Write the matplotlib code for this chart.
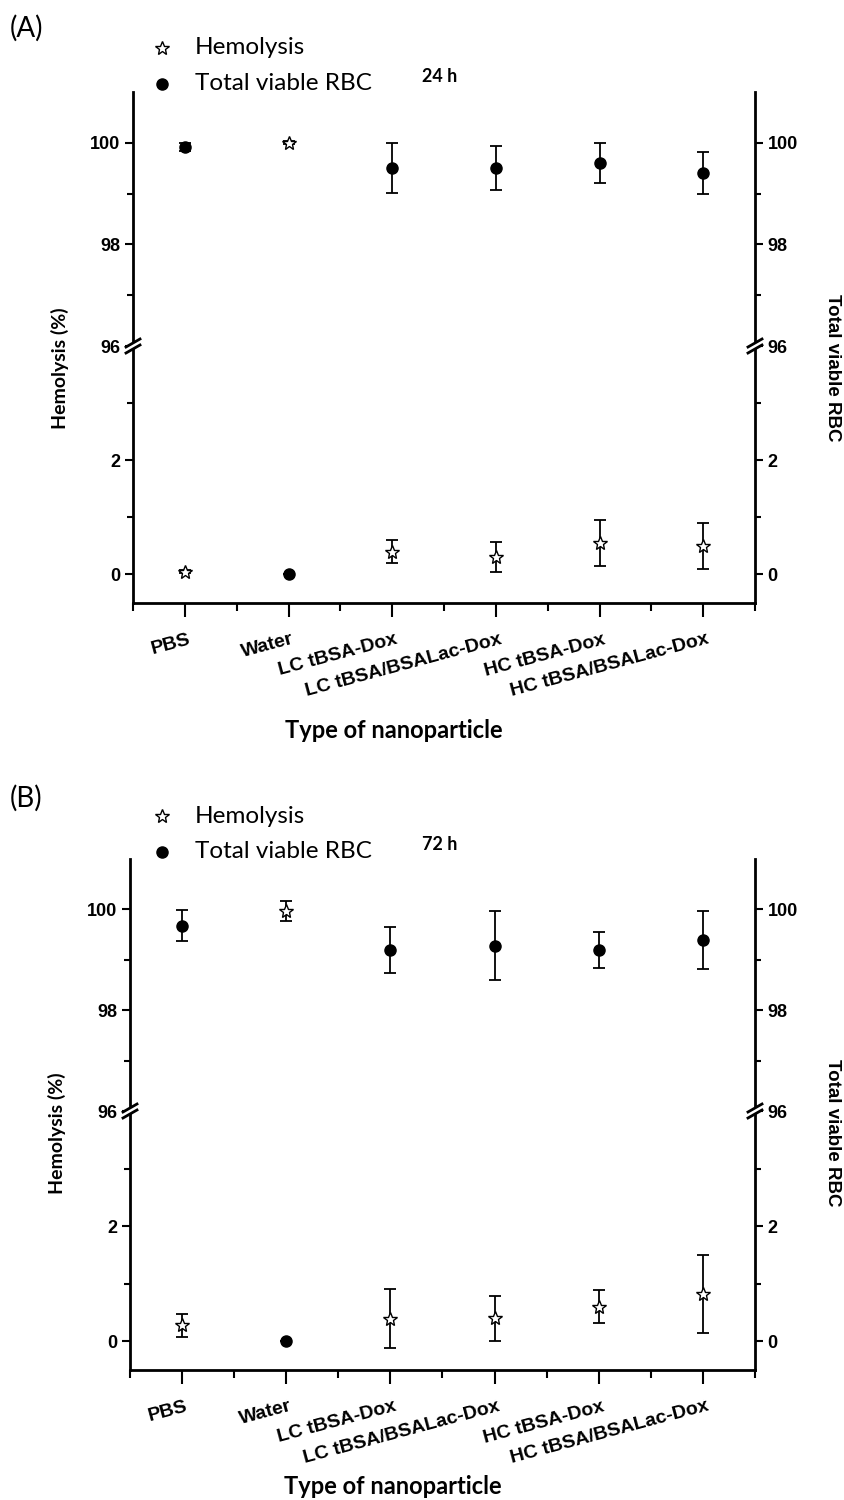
import matplotlib
matplotlib.use("Agg")
import matplotlib.pyplot as plt
import matplotlib.transforms as mtrans
from matplotlib.lines import Line2D
from matplotlib.patches import Polygon
import numpy as np

categories = ["PBS", "Water", "LC tBSA-Dox", "LC tBSA/BSALac-Dox",
              "HC tBSA-Dox", "HC tBSA/BSALac-Dox"]

# Panel A: 24 h
hem_24 = [0.05, 100.0, 0.40, 0.30, 0.55, 0.50]
hem_24_err = [0.03, 0.03, 0.20, 0.26, 0.40, 0.40]
rbc_24 = [99.92, 0.0, 99.50, 99.50, 99.60, 99.40]
rbc_24_err = [0.08, 0.0, 0.49, 0.43, 0.39, 0.41]

# Panel B: 72 h
hem_72 = [0.28, 99.97, 0.39, 0.40, 0.60, 0.82]
hem_72_err = [0.20, 0.20, 0.51, 0.39, 0.29, 0.67]
rbc_72 = [99.68, 0.0, 99.19, 99.28, 99.19, 99.39]
rbc_72_err = [0.31, 0.0, 0.46, 0.68, 0.36, 0.58]

upper_ticks = [96, 98, 100]
lower_ticks = [0, 2]

W, H = 845, 1500
fig = plt.figure(figsize=(W / 100, H / 100), dpi=100)

TICKFAM = ["Liberation Sans", "DejaVu Sans"]
LABFONT = ["Lato", "DejaVu Sans"]


def fx(px):
    return px / W


def fy(py):
    return 1 - py / H


def draw_break(x, y):
    dx, dy = 7, 4
    gap = 3
    poly = Polygon([(fx(x - dx), fy(y + dy - gap)), (fx(x + dx), fy(y - dy - gap)),
                    (fx(x + dx), fy(y - dy + gap)), (fx(x - dx), fy(y + dy + gap))],
                   closed=True, transform=fig.transFigure, facecolor="white",
                   edgecolor="none", zorder=10)
    fig.add_artist(poly)
    for off in (-gap, gap):
        fig.add_artist(Line2D([fx(x - dx), fx(x + dx)],
                              [fy(y + dy + off), fy(y - dy + off)],
                              transform=fig.transFigure, color="black",
                              lw=2.0, zorder=11))


def panel(left, right, top, brk, bottom, hem, hem_err, rbc, rbc_err,
          tag, tag_y, time_lbl, leg_y, xlabel_y):
    w = fx(right - left)
    ax_u = fig.add_axes([fx(left), fy(brk), w, (brk - top) / H])
    ax_l = fig.add_axes([fx(left), fy(bottom), w, (bottom - brk) / H])
    x = np.arange(1, len(categories) + 1)
    for ax in (ax_u, ax_l):
        ax.errorbar(x, rbc, yerr=rbc_err, fmt="none", ecolor="black",
                    elinewidth=1.3, capsize=4, capthick=1.3, zorder=2)
        ax.errorbar(x, hem, yerr=hem_err, fmt="none", ecolor="black",
                    elinewidth=1.3, capsize=4, capthick=1.3, zorder=2)
        ax.plot(x, rbc, "o", ms=8, color="black", zorder=3)
        ax.plot(x, hem, "*", ms=10, mfc="white", mec="black", mew=1.0, zorder=4)
        ax.set_xlim(0.5, 6.5)
        ax.spines["top"].set_visible(False)
        for s in ("left", "right", "bottom"):
            ax.spines[s].set_linewidth(2.0)
        ax.tick_params(axis="y", which="both", direction="out", left=True,
                       right=True, labelleft=True, labelright=True,
                       width=1.5, pad=3)
        ax.tick_params(axis="y", which="major", length=6)
        ax.tick_params(axis="y", which="minor", length=4)
    ax_u.set_ylim(96, 101)
    ax_u.set_yticks(upper_ticks)
    ax_u.set_yticks([97, 99], minor=True)
    ax_u.spines["bottom"].set_visible(False)
    ax_u.tick_params(axis="x", which="both", bottom=False, labelbottom=False)
    ax_l.set_ylim(-0.5, 4.0)
    ax_l.set_yticks(lower_ticks)
    ax_l.set_yticks([1, 3], minor=True)
    for ax in (ax_u, ax_l):
        ax.set_yticklabels([str(t) for t in ax.get_yticks()],
                           fontfamily=TICKFAM, fontweight="bold", fontsize=13)
    ax_l.set_xticks(x)
    ax_l.set_xticks(np.arange(0.5, 7.0, 1.0), minor=True)
    ax_l.tick_params(axis="x", which="major", direction="out", length=10,
                     width=1.5, pad=10)
    ax_l.tick_params(axis="x", which="minor", direction="out", length=6,
                     width=1.5)
    ax_l.set_xticklabels(categories, rotation=15, ha="right", va="top",
                         rotation_mode="anchor", fontsize=14,
                         fontfamily=TICKFAM, fontweight="bold")
    offset = mtrans.ScaledTranslation(3 / 100, 0, fig.dpi_scale_trans)
    for lab in ax_l.get_xticklabels():
        lab.set_transform(lab.get_transform() + offset)

    draw_break(left, brk)
    draw_break(right, brk)

    mid = brk + 22
    fig.text(fx(left - 73), fy(mid), "Hemolysis (%)", rotation=90,
             ha="center", va="center", fontsize=14, fontweight="bold",
             family=LABFONT)
    fig.text(fx(right + 78), fy(mid), "Total viable RBC", rotation=-90,
             ha="center", va="center", fontsize=13.5, fontweight="bold",
             family=TICKFAM)
    fig.text(fx((left + right) / 2 - 50), fy(xlabel_y), "Type of nanoparticle",
             ha="center", va="center", fontsize=17, fontweight="bold",
             family=LABFONT)
    fig.text(fx(10), fy(tag_y), tag, ha="left", va="center", fontsize=20,
             family=LABFONT)
    # legend
    fig.add_artist(Line2D([fx(162)], [fy(leg_y)], marker="*", ms=10,
                          mfc="white", mec="black", mew=1.0, ls="none",
                          transform=fig.transFigure))
    fig.add_artist(Line2D([fx(162)], [fy(leg_y + 36)], marker="o", ms=8,
                          color="black", ls="none", transform=fig.transFigure))
    fig.text(fx(195), fy(leg_y), "Hemolysis", ha="left", va="center",
             fontsize=17.5, family=LABFONT)
    fig.text(fx(195), fy(leg_y + 36), "Total viable RBC", ha="left",
             va="center", fontsize=17.5, family=LABFONT)
    fig.text(fx(440), fy(leg_y + 29), time_lbl, ha="center", va="center",
             fontsize=13, fontweight="bold", family=LABFONT)


panel(133, 755, 92, 346, 603, hem_24, hem_24_err, rbc_24, rbc_24_err,
      "(A)", 28, "24 h", 48, 730)
panel(130, 755, 859, 1111, 1370, hem_72, hem_72_err, rbc_72, rbc_72_err,
      "(B)", 798, "72 h", 816, 1486)

fig.savefig("out.png", dpi=100)
